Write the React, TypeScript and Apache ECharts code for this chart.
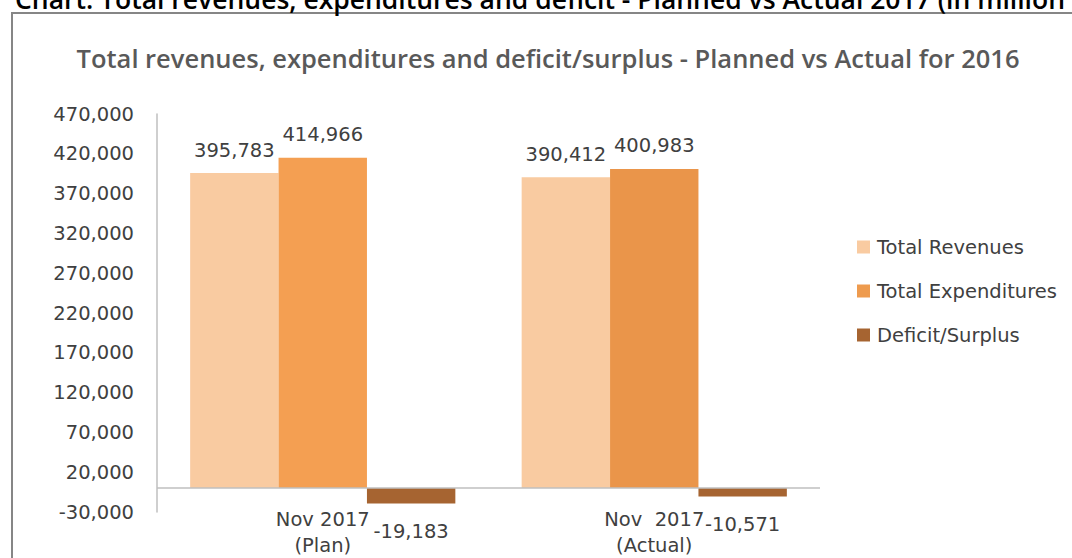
import React, { useEffect, useRef } from "react";
import * as echarts from "echarts";

const categories = ["Nov 2017\n(Plan)", "Nov  2017\n(Actual)"];
const seriesNames = ["Total Revenues", "Total Expenditures", "Deficit/Surplus"];
const totalRevenues = [395783, 390412];
const totalExpenditures = [414966, 400983];
const deficitSurplus = [-19183, -10571];
const yMin = -30000;
const yMax = 470000;
const yInterval = 50000;
const pageTitle =
  "Chart: Total revenues, expenditures and deficit - Planned vs Actual 2017 (in million";
const chartTitle =
  "Total revenues, expenditures and deficit/surplus - Planned vs Actual for 2016";

const revColor = "#F9CBA1";
const expColor = "#EE9B4E";
const expPointColors = ["#F49F52", "#EA954A"];
const defColor = "#A66431";
const textColor = "#404040";
const font = "DejaVu Sans";
const fs = 19.5;
const titleFont = "'Open Sans'";

const fmt = (v: number) => v.toLocaleString("en-US");

export default function App() {
  const ref = useRef<HTMLDivElement>(null);
  useEffect(() => {
    if (!ref.current) return;
    const chart = echarts.init(ref.current, undefined, { renderer: "svg" });
    const labelTop = {
      show: true,
      position: "top",
      distance: 13,
      color: textColor,
      fontFamily: font,
      fontSize: fs,
      formatter: (p: any) => fmt(p.value),
    };
    chart.setOption({
      animation: false,
      backgroundColor: "#ffffff",
      textStyle: { fontFamily: font },
      graphic: [
        {
          type: "rect",
          shape: { x: 12, y: 13, width: 1200, height: 700 },
          style: { fill: "none", stroke: "#868686", lineWidth: 2 },
          silent: true,
        },
        {
          type: "text",
          x: 15,
          y: -1,
          style: {
            text: pageTitle,
            fill: "#000000",
            font: `600 26.5px ${titleFont}`,
            verticalAlign: "middle",
            align: "left",
          },
          silent: true,
        },
        {
          type: "text",
          x: 548,
          y: 58,
          style: {
            text: chartTitle,
            fill: "#595959",
            font: `600 25.5px ${titleFont}`,
            verticalAlign: "middle",
            align: "center",
          },
          silent: true,
        },
      ],
      grid: { left: 157, right: 252, top: 114, bottom: 43, containLabel: false },
      legend: {
        orient: "vertical",
        left: 857,
        top: 237,
        padding: 0,
        itemWidth: 13,
        itemHeight: 13,
        itemGap: 24,
        icon: "rect",
        textStyle: { color: textColor, fontFamily: font, fontSize: fs, padding: [0, 0, 0, 2] },
        data: seriesNames,
      },
      xAxis: {
        type: "category",
        data: categories,
        axisLine: { show: false },
        axisTick: { show: false },
        splitLine: { show: false },
        axisLabel: {
          color: textColor,
          fontFamily: font,
          fontSize: fs,
          lineHeight: 26,
          margin: -6,
        },
      },
      yAxis: {
        type: "value",
        min: yMin,
        max: yMax,
        interval: yInterval,
        axisLine: { show: true, lineStyle: { color: "#BFBFBF", width: 1.5 } },
        axisTick: { show: false },
        splitLine: { show: false },
        axisLabel: {
          color: textColor,
          fontFamily: font,
          fontSize: fs,
          margin: 23,
          formatter: (v: number) => fmt(v),
        },
      },
      series: [
        {
          name: seriesNames[0],
          type: "bar",
          barGap: "0%",
          barCategoryGap: "20%",
          itemStyle: { color: revColor },
          label: labelTop,
          data: totalRevenues,
          markLine: {
            silent: true,
            symbol: "none",
            label: { show: false },
            lineStyle: { color: "#BFBFBF", type: "solid", width: 1.5 },
            data: [{ yAxis: 0 }],
          },
        },
        {
          name: seriesNames[1],
          type: "bar",
          barGap: "0%",
          barCategoryGap: "20%",
          itemStyle: { color: expColor },
          label: labelTop,
          data: totalExpenditures.map((v, i) => ({
            value: v,
            itemStyle: { color: expPointColors[i] },
          })),
        },
        {
          name: seriesNames[2],
          type: "bar",
          barGap: "0%",
          barCategoryGap: "20%",
          itemStyle: { color: defColor },
          label: { ...labelTop, position: "bottom", distance: 18 },
          data: deficitSurplus,
        },
      ],
    });
    return () => chart.dispose();
  }, []);
  return (
    <div
      ref={ref}
      style={{ position: "absolute", left: 0, top: 0, width: 1072, height: 558, background: "#fff" }}
    />
  );
}
